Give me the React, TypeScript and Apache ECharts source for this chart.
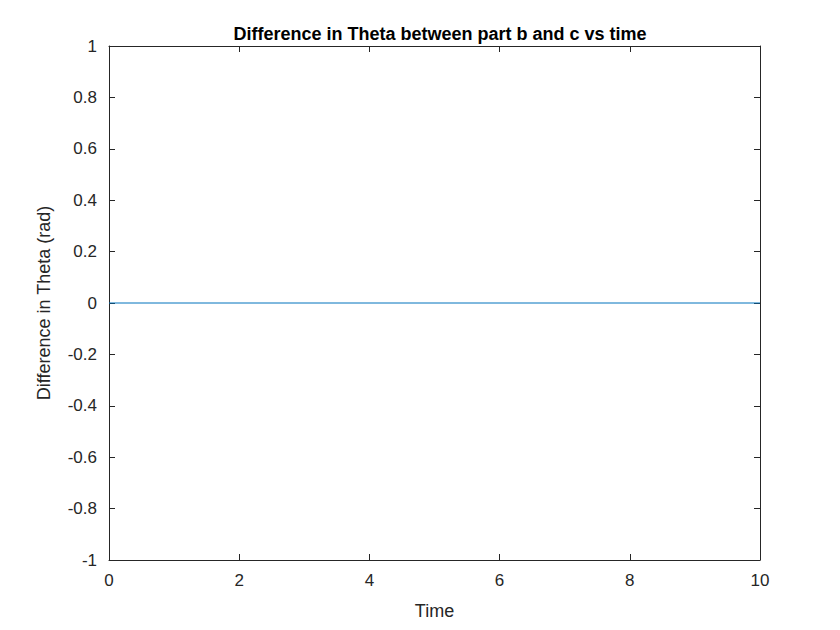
import React, { useEffect, useRef } from "react";
import * as echarts from "echarts";

const timeValues = [0, 10];
const thetaDiff = [0, 0];
const titleText = "Difference in Theta between part b and c vs time";

const axisColor = "#262626";
const font = "Arial, 'Liberation Sans', Helvetica, sans-serif";

export default function App() {
  const chartRef = useRef<HTMLDivElement>(null);

  useEffect(() => {
    document.body.style.margin = "0";
    if (!chartRef.current) return;
    const chart = echarts.init(chartRef.current, null, { renderer: "svg" });

    const baseAxis = {
      axisLine: { show: true, onZero: false, lineStyle: { color: axisColor, width: 1 } },
      axisTick: { show: true, inside: true, length: 6, lineStyle: { color: axisColor } },
      splitLine: { show: false },
    };

    chart.setOption({
      animation: false,
      backgroundColor: "#ffffff",
      title: {
        text: titleText,
        left: 435,
        top: 20,
        textAlign: "center",
        textStyle: { fontFamily: font, fontSize: 18, fontWeight: "bold", color: "#000" },
      },
      grid: { left: 109, right: 80, top: 46, bottom: 70 },
      xAxis: [
        {
          ...baseAxis,
          type: "value",
          min: 0,
          max: 10,
          interval: 2,
          position: "bottom",
          name: "Time",
          nameLocation: "middle",
          nameGap: 42,
          nameTextStyle: { fontFamily: font, fontSize: 18, color: axisColor },
          axisLabel: { fontFamily: font, fontSize: 17, color: axisColor, margin: 12 },
        },
        {
          ...baseAxis,
          type: "value",
          min: 0,
          max: 10,
          interval: 2,
          position: "top",
          axisLabel: { show: false },
        },
      ],
      yAxis: [
        {
          ...baseAxis,
          type: "value",
          min: -1,
          max: 1,
          interval: 0.2,
          position: "left",
          name: "Difference in Theta (rad)",
          nameLocation: "middle",
          nameGap: 56,
          nameTextStyle: { fontFamily: font, fontSize: 18, color: axisColor },
          axisLabel: {
            fontFamily: font,
            fontSize: 17,
            color: axisColor,
            margin: 12,
            formatter: (v: number) => String(Math.round(v * 10) / 10),
          },
        },
        {
          ...baseAxis,
          type: "value",
          min: -1,
          max: 1,
          interval: 0.2,
          position: "right",
          axisLabel: { show: false },
        },
      ],
      series: [
        {
          type: "line",
          data: timeValues.map((t, i) => [t, thetaDiff[i]]),
          showSymbol: false,
          lineStyle: { color: "#0072BD", width: 1 },
        },
      ],
    });

    return () => chart.dispose();
  }, []);

  return <div ref={chartRef} style={{ width: 840, height: 630 }} />;
}
